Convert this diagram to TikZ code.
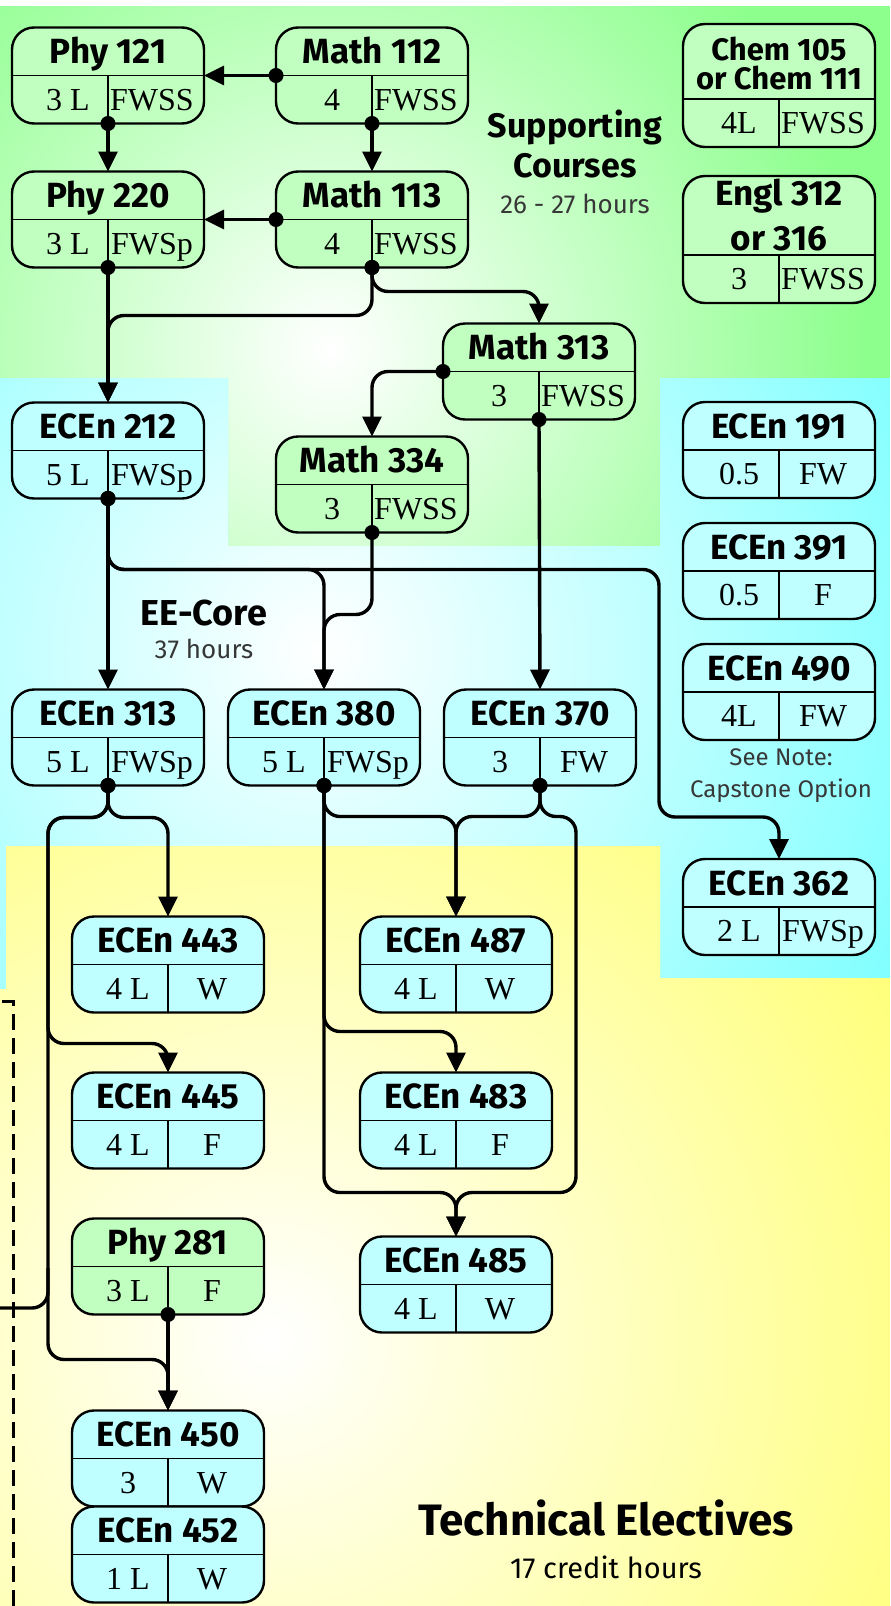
\documentclass[tikz,border=0pt]{standalone}
\usepackage{fontspec}
\setmainfont{Liberation Serif}
\newfontfamily\comicfont{Fira Sans}
\usetikzlibrary{positioning,calc,arrows.meta}

\definecolor{suppgreen}{RGB}{140,255,140}
\definecolor{coreblue}{RGB}{128,255,255}
\definecolor{techyellow}{RGB}{255,255,112}
\definecolor{greenbox}{RGB}{192,255,192}
\definecolor{bluebox}{RGB}{192,255,255}
\definecolor{notegray}{RGB}{55,55,55}

\tikzset{
  course/.style={draw, line width=1.2pt, rounded corners=11pt, minimum width=96pt, minimum height=48pt, inner sep=0pt, outer sep=0pt},
  divider/.style={line width=0.9pt},
  title/.style={font=\comicfont\bfseries\fontsize{17.5}{19}\selectfont, align=center, inner sep=0pt},
  titleline/.style={title, text height=12pt, text depth=0pt},
  entry/.style={font=\fontsize{16}{18}\selectfont, inner sep=0pt, text height=10.6pt, text depth=0pt},
  link/.style={line width=1.7pt, rounded corners=8pt, -{Triangle[length=10pt,width=9.5pt]}},
  dotlink/.style={link, {Circle[length=7.5pt]}-{Triangle[length=10pt,width=9.5pt]}, shorten <=-3.75pt},
  heading/.style={font=\comicfont\bfseries\fontsize{17}{20}\selectfont, align=center, inner sep=0pt},
  hours/.style={font=\comicfont\fontsize{13}{16}\selectfont, text=notegray, align=center, inner sep=0pt},
}

% fill, placement, name, title, credits, semesters
\newcommand{\course}[6][bluebox]{%
  \node[course, fill=#1, #2] (#3) {};
  \coordinate (#3-d) at ([yshift=24pt]#3.south);
  \coordinate (#3-l) at (#3.west |- #3-d);
  \coordinate (#3-r) at (#3.east |- #3-d);
  \draw[divider] (#3-l) -- (#3-r) (#3-d) -- (#3.south);
  \node[titleline] at ($(#3.north)!0.5!(#3-d)$) {#4};
  \node[entry, xshift=4pt] at ($(#3-l)!0.5!(#3.south)$) {#5};
  \node[entry, xshift=-2pt] at ($(#3-r)!0.5!(#3.south)$) {#6};
}

\begin{document}
\begin{tikzpicture}[x=0.5pt, y=0.5pt]
\useasboundingbox (0,0) rectangle (890,-1606);

\begin{scope}
  \clip (0,-6) -- (890,-6) -- (890,-378) -- (660,-378) -- (660,-546) -- (228,-546) -- (228,-378) -- (0,-378) -- cycle;
  \fill[suppgreen] (0,0) rectangle (890,-600);
  \shade[inner color=white, outer color=suppgreen] (330,-350) circle (270pt);
\end{scope}
\begin{scope}
  \clip (0,-378) -- (228,-378) -- (228,-546) -- (660,-546) -- (660,-378) -- (890,-378) -- (890,-978) -- (660,-978) -- (660,-846) -- (6,-846) -- (6,-989) -- (0,-989) -- cycle;
  \fill[coreblue] (0,-370) rectangle (890,-1000);
  \shade[inner color=white, outer color=coreblue] (320,-650) circle (330pt);
\end{scope}
\begin{scope}
  \clip (6,-846) -- (660,-846) -- (660,-978) -- (890,-978) -- (890,-1606) -- (0,-1606) -- (0,-989) -- (6,-989) -- cycle;
  \fill[techyellow] (0,-840) rectangle (890,-1606);
  \shade[inner color=white, outer color=techyellow] (270,-1340) circle (390pt);
\end{scope}

\course[greenbox]{at={(108,-75.5)}}{phy121}{Phy 121}{3 L}{FWSS}
\course[greenbox]{right=36pt of phy121}{math112}{Math 112}{4}{FWSS}
\course[greenbox]{below=24pt of phy121}{phy220}{Phy 220}{3 L}{FWSp}
\course[greenbox]{below=24pt of math112}{math113}{Math 113}{4}{FWSS}
\course[greenbox]{below=28pt of math113, xshift=83.5pt}{math313}{Math 313}{3}{FWSS}
\course[greenbox]{below=84.5pt of math113}{math334}{Math 334}{3}{FWSS}
\course[greenbox]{right=107.5pt of math112, yshift=-5pt, minimum height=61.5pt}{chem}{}{4L}{FWSS}
\course[greenbox]{below=14.5pt of chem, minimum height=63.5pt}{engl}{}{3}{FWSS}
\node[title, anchor=base, font=\comicfont\bfseries\fontsize{15.5}{14.5}\selectfont] at ([yshift=-32.5pt]chem.north) {Chem 105\\or Chem 111};
\node[title, anchor=base] at ([yshift=-37pt]engl.north) {Engl 312\\[3.5pt]or 316};

\course{below=67.5pt of phy220}{ecen212}{ECEn 212}{5 L}{FWSp}
\course{below=95.5pt of ecen212}{ecen313}{ECEn 313}{5 L}{FWSp}
\course{right=12pt of ecen313}{ecen380}{ECEn 380}{5 L}{FWSp}
\course{right=12pt of ecen380}{ecen370}{ECEn 370}{3}{FW}
\course{below=49.5pt of engl}{ecen191}{ECEn 191}{0.5}{FW}
\course{below=12.5pt of ecen191}{ecen391}{ECEn 391}{0.5}{F}
\course{below=12.5pt of ecen391}{ecen490}{ECEn 490}{4L}{FW}
\course{below=59.5pt of ecen490}{ecen362}{ECEn 362}{2 L}{FWSp}

\course{below=65.5pt of ecen313, xshift=30pt}{ecen443}{ECEn 443}{4 L}{W}
\course{below=30pt of ecen443}{ecen445}{ECEn 445}{4 L}{F}
\course[greenbox]{below=25pt of ecen445}{phy281}{Phy 281}{3 L}{F}
\course{below=48pt of phy281}{ecen450}{ECEn 450}{3}{W}
\course{below=0pt of ecen450}{ecen452}{ECEn 452}{1 L}{W}
\course{right=48pt of ecen443}{ecen487}{ECEn 487}{4 L}{W}
\course{right=48pt of ecen445}{ecen483}{ECEn 483}{4 L}{F}
\course{below=34pt of ecen483}{ecen485}{ECEn 485}{4 L}{W}

\node[heading, anchor=base] (supp) at (575,-177) {Supporting\\Courses};
\node[hours, anchor=base] at (575,-213) {26 - 27 hours};
\node[heading, anchor=base, font=\comicfont\bfseries\fontsize{18}{20}\selectfont] (core) at (204,-625) {EE-Core};
\node[hours, anchor=base] at (204,-658) {37 hours};
\node[hours, anchor=base, font=\comicfont\fontsize{12}{16}\selectfont] (note) at (781,-797) {See Note:\\Capstone Option};
\node[heading, anchor=base, font=\comicfont\bfseries\fontsize{22}{24}\selectfont] (tech) at (606,-1535) {Technical Electives};
\node[hours, anchor=base, font=\comicfont\fontsize{14.5}{16}\selectfont, text=black] at (606,-1578) {17 credit hours};

\draw[dotlink] (math112-l) -- (phy121-r);
\draw[dotlink] (phy121.south) -- (phy220.north);
\draw[dotlink] (math112.south) -- (math113.north);
\draw[dotlink] (math113-l) -- (phy220-r);
\draw[dotlink] (phy220.south) -- (ecen212.north);
\draw[dotlink] (math113.south) -- ++(0,-48) -| (ecen212.north);
\draw[dotlink] (math113.south) -- ++(0,-24) -| (math313.north);
\draw[dotlink] (math313-l) -| (math334.north);
\draw[dotlink] (math313.south) -- (ecen370.north);
\draw[dotlink] (math334.south) -- ++(0,-82) -| (ecen380.north);
\draw[dotlink] (ecen212.south) -- (ecen313.north);
\draw[dotlink] (ecen212.south) -- ++(0,-71) -| (ecen380.north);
\draw[dotlink] (ecen212.south) -- ++(0,-71) -| (659,-817) -| (ecen362.north);
\draw[dotlink] (ecen313.south) -- ++(0,-32) -| (ecen443.north);
\draw[dotlink] (ecen313.south) -- ++(0,-32) -| ++(-60,-226) -| (ecen445.north);
\draw[dotlink] (ecen313.south) -- ++(0,-32) -| ++(-60,-542) -| (ecen450.north);
\draw[dotlink] (phy281.south) -- (ecen450.north);
\draw[dotlink] (ecen380.south) -- ++(0,-31) -| (ecen487.north);
\draw[dotlink] (ecen380.south) -- ++(0,-246) -| (ecen483.north);
\draw[dotlink] (ecen380.south) -- ++(0,-407) -| (ecen485.north);
\draw[dotlink] (ecen370.south) -- ++(0,-31) -| (ecen487.north);
\draw[dotlink] (ecen370.south) -- ++(0,-31) -| ++(36,-376) -| (ecen485.north);

\coordinate (offpage) at (0,-1308);
\draw[link, -] (offpage) -| ++(48,40);
\coordinate (dashstart) at (2,-1001);
\draw[line width=1.5pt, dash pattern=on 8pt off 4pt] (dashstart) -- ++(11,0) -- ++(0,-605);
\end{tikzpicture}
\end{document}
